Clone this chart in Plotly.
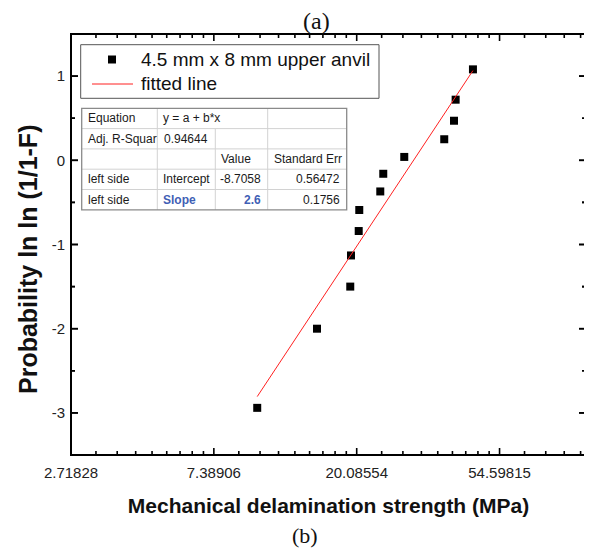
import math
import numpy as np
import plotly.graph_objects as go

# ---------------- data ----------------
strength_mpa = [10.01, 15.21, 19.20, 19.30, 20.37, 20.45, 23.69, 24.19, 28.02, 37.07, 39.69, 40.15, 45.32]
probability = [-2.94, -2.00, -1.50, -1.13, -0.84, -0.59, -0.37, -0.16, 0.04, 0.25, 0.47, 0.72, 1.08]
series_name = "4.5 mm x 8 mm upper anvil"
fit_name = "fitted line"

x_tick_exponents = [1, 2, 3, 4]
x_tick_labels = ["2.71828", "7.38906", "20.08554", "54.59815"]
y_tick_values = [-3, -2, -1, 0, 1]
y_tick_labels = ["-3", "-2", "-1", "0", "1"]

table_row1 = ["Equation", "y = a + b*x"]
table_row2 = ["Adj. R-Squar", "0.94644"]
table_head = ["Value", "Standard Err"]
table_row4 = ["left side", "Intercept", "-8.7058", "0.56472"]
table_row5 = ["left side", "Slope", "2.6", "0.1756"]

# ---------------- layout geometry (pixels of the reference page) ----------------
OFF = 8                      # default body margin of the html page
FW, FH = 592 - OFF, 559 - 2 * OFF
L, T, R, B = 71, 34, 586, 455
W, H = R - L, B - T
X_MIN, X_MAX = math.e, 100.0
Y_MIN, Y_MAX = -3.5, 1.5


def xp(px):
    return (px - L) / W


def yp(py):
    return (B - py) / H


FONT = "Liberation Sans, Arial, sans-serif"
SERIF = "Liberation Serif, Times New Roman, serif"

# fitted line through the data (straight line in ln(x))
b, a = np.polyfit(np.log(strength_mpa), probability, 1)
x_fit = [min(strength_mpa), max(strength_mpa)]
y_fit = [float(a + b * math.log(v)) for v in x_fit]

x_tick_vals = [math.e ** n for n in x_tick_exponents]
# Origin-style minor ticks: 8 linear steps between e^n and e^(n+1)
x_minor = []
for n in range(1, 5):
    lo, hi = math.e ** n, math.e ** (n + 1)
    for k in range(1, 9):
        v = lo + k * (hi - lo) / 9
        if v < X_MAX:
            x_minor.append(v)
y_minor = [v / 2 for v in range(int(Y_MIN * 2) + 1, int(Y_MAX * 2)) if v % 2]

MAJ, MIN_ = 7, 4
TW = 1.6
x_span = math.log10(X_MAX) - math.log10(X_MIN)
y_span = Y_MAX - Y_MIN

# axis box and inward ticks on all four sides, in axis units
box_x = [X_MIN, X_MAX, X_MAX, X_MIN, X_MIN]
box_y = [Y_MIN, Y_MIN, Y_MAX, Y_MAX, Y_MIN]
tk_x, tk_y = [], []
for v in x_tick_vals + x_minor:
    d = (MAJ if v in x_tick_vals else MIN_) / H * y_span
    tk_x += [v, v, None, v, v, None]
    tk_y += [Y_MIN, Y_MIN + d, None, Y_MAX, Y_MAX - d, None]
for v in y_tick_values + y_minor:
    f = 10 ** ((MAJ if v in y_tick_values else MIN_) / W * x_span)
    tk_x += [X_MIN, X_MIN * f, None, X_MAX, X_MAX / f, None]
    tk_y += [v, v, None, v, v, None]

fig = go.Figure()
fig.add_trace(go.Scatter(x=tk_x, y=tk_y, mode="lines", showlegend=False, hoverinfo="skip",
                         cliponaxis=False, line=dict(color="black", width=TW)))
fig.add_trace(go.Scatter(x=box_x, y=box_y, mode="lines", showlegend=False, hoverinfo="skip",
                         cliponaxis=False, line=dict(color="black", width=2)))
fig.add_trace(go.Scatter(
    x=strength_mpa, y=probability, mode="markers", name=series_name,
    marker=dict(symbol="square", size=8, color="black"),
))
fig.add_trace(go.Scatter(
    x=x_fit, y=y_fit, mode="lines", name=fit_name,
    line=dict(color="#ff2020", width=1),
))

axis_common = dict(
    showline=False, ticks="", showgrid=False, zeroline=False,
    tickfont=dict(family=FONT, size=15, color="#222222"),
)

fig.update_xaxes(
    type="log", range=[math.log10(X_MIN), math.log10(X_MAX)],
    tickmode="array", tickvals=x_tick_vals, ticktext=x_tick_labels,
    ticklabelstandoff=7,
    title=dict(text="<b>Mechanical delamination strength (MPa)</b>",
               font=dict(family=FONT, size=21, color="#111111"), standoff=18),
    **axis_common,
)
fig.update_yaxes(
    range=[Y_MIN, Y_MAX], tickmode="array", tickvals=y_tick_values, ticktext=y_tick_labels,
    ticklabelstandoff=5,
    **axis_common,
)

shapes = []
annotations = []

# same ticks and box also as shapes
for v in x_tick_vals + x_minor:
    ln = MAJ if v in x_tick_vals else MIN_
    xv = math.log10(v)
    for y0, y1 in ((0, ln / H), (1, 1 - ln / H)):
        shapes.append(dict(type="line", xref="x", yref="paper", x0=xv, x1=xv, y0=y0, y1=y1,
                           line=dict(color="black", width=TW)))
for v in y_tick_values + y_minor:
    ln = MAJ if v in y_tick_values else MIN_
    for x0, x1 in ((0, ln / W), (1, 1 - ln / W)):
        shapes.append(dict(type="line", xref="paper", yref="y", x0=x0, x1=x1, y0=v, y1=v,
                           line=dict(color="black", width=TW)))
shapes.append(dict(type="rect", xref="paper", yref="paper", x0=0, x1=1, y0=0, y1=1,
                   line=dict(color="black", width=2)))


def pline(x0, y0, x1, y1, color, width):
    shapes.append(dict(type="line", xref="paper", yref="paper", x0=xp(x0), x1=xp(x1),
                       y0=yp(y0), y1=yp(y1), line=dict(color=color, width=width)))


def ptext(text, x, y, size, anchor="left", color="#1a1a1a", family=FONT, angle=0, yanchor="middle"):
    annotations.append(dict(xref="paper", yref="paper", x=xp(x), y=yp(y), text=text,
                            showarrow=False, xanchor=anchor, yanchor=yanchor, textangle=angle,
                            font=dict(family=family, size=size, color=color)))


# ----- legend box -----
shapes.append(dict(type="rect", xref="paper", yref="paper", x0=xp(80.7), x1=xp(379),
                   y0=yp(44.7), y1=yp(98.3), fillcolor="white", line=dict(color="#555555", width=1)))
shapes.append(dict(type="rect", xref="paper", yref="paper", x0=xp(108), x1=xp(116),
                   y0=yp(55.5), y1=yp(63.5), fillcolor="black", line=dict(width=0)))
pline(92, 84, 133, 84, "#ff2020", 1)
ptext(series_name, 139, 60, 19, color="#111111")
ptext(fit_name, 139, 84, 19, color="#111111")

# ----- parameter table -----
tx = [81.7, 157.3, 215.3, 267.7, 346.7]
ty = [108.3, 128.6, 148.9, 169.2, 189.5, 209.8]
grid = "#d2d2d2"
for yy in ty[1:-1]:
    pline(tx[0], yy, tx[-1], yy, grid, 1)
for xx in (tx[1], tx[3]):
    pline(xx, ty[0], xx, ty[-1], grid, 1)
pline(tx[2], ty[1], tx[2], ty[-1], grid, 1)
shapes.append(dict(type="rect", xref="paper", yref="paper", x0=xp(tx[0]), x1=xp(tx[-1]),
                   y0=yp(ty[0]), y1=yp(ty[-1]), line=dict(color="#8a8a8a", width=1.3)))


def cell(text, col, row, align="left", color="#1a1a1a", bold=False):
    yc = (ty[row] + ty[row + 1]) / 2
    t = f"<b>{text}</b>" if bold else text
    if align == "left":
        ptext(t, tx[col] + 4, yc, 12, "left", color)
    else:
        ptext(t, tx[col + 1] - 5, yc, 12, "right", color)


blue = "#3f5fb5"
cell(table_row1[0], 0, 0)
cell(table_row1[1], 1, 0)
cell(table_row2[0], 0, 1)
cell(table_row2[1], 1, 1, align="right")
cell(table_head[0], 2, 2)
cell(table_head[1], 3, 2)
cell(table_row4[0], 0, 3)
cell(table_row4[1], 1, 3)
cell(table_row4[2], 2, 3, align="right")
cell(table_row4[3], 3, 3, align="right")
cell(table_row5[0], 0, 4)
cell(table_row5[1], 1, 4, color=blue, bold=True)
cell(table_row5[2], 2, 4, align="right", color=blue, bold=True)
cell(table_row5[3], 3, 4, align="right")

# y-axis title
ptext("<b>Probability ln ln (1/1-F)</b>", 28, 260, 25, "center", "#111111", angle=-90)
# panel labels
ptext("(a)", 316, 21, 24, "center", "#111111", family=SERIF)
ptext("(b)", 305, 550, 22, "center", "#111111", family=SERIF, yanchor="bottom")

fig.update_layout(
    template="none",
    width=FW, height=FH, autosize=False,
    margin=dict(l=L - OFF, r=FW - (R - OFF), t=T - OFF, b=FH - (B - OFF)),
    paper_bgcolor="white", plot_bgcolor="white",
    showlegend=False,
    shapes=shapes, annotations=annotations,
)

fig.write_html("out.html")
